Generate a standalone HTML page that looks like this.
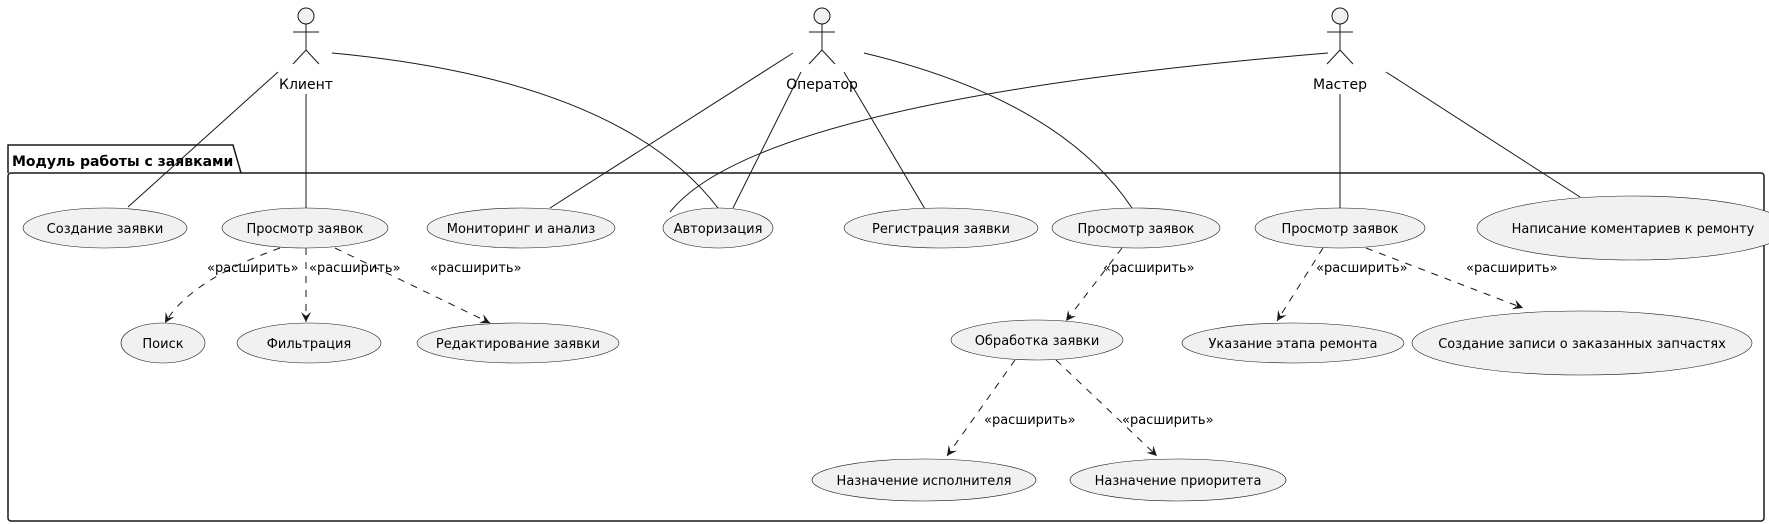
<!DOCTYPE html>
<html><head><meta charset="utf-8"><style>
html,body{margin:0;padding:0;background:#fff;}
svg{display:block;font-family:"DejaVu Sans","Liberation Sans",sans-serif;}
</style></head><body>
<svg width="1769" height="524" viewBox="0 0 1769 524" xmlns="http://www.w3.org/2000/svg">
<defs>
<marker id="a" markerWidth="12" markerHeight="12" refX="10" refY="5" orient="auto" markerUnits="userSpaceOnUse">
<path d="M0,0 L10,5 L0,10 L4,5 Z" fill="#181818"/>
</marker>
</defs>
<path d="M8,173 L8,145 L233,145 L241,173" fill="none" stroke="#181818" stroke-width="1.5"/>
<rect x="8" y="173" width="1756" height="348" rx="3" fill="none" stroke="#181818" stroke-width="1.5"/>
<text x="12" y="166" font-size="14" font-weight="bold">Модуль работы с заявками</text>

<g fill="none" stroke="#181818" stroke-width="1">
<line x1="278" y1="72" x2="128" y2="207"/>
<line x1="306" y1="94" x2="306" y2="208"/>
<path d="M332,53 Q620,80 718,208"/>
<line x1="793" y1="53" x2="550" y2="208"/>
<line x1="801" y1="72" x2="733" y2="208"/>
<line x1="844" y1="72" x2="925" y2="209"/>
<path d="M864,53 Q1060,100 1132,208"/>
<path d="M1328,53 Q760,100 670,212"/>
<line x1="1340" y1="94" x2="1340" y2="208"/>
<line x1="1386" y1="72" x2="1580" y2="197"/>
</g>

<g fill="#f1f1f1" stroke="#181818" stroke-width="1">
<circle cx="306" cy="16" r="8"/><line x1="306" y1="24" x2="306" y2="50"/><line x1="293" y1="32" x2="319" y2="32"/><path d="M293,64 L306,50 L319,64" fill="none"/>
<circle cx="822" cy="16" r="8"/><line x1="822" y1="24" x2="822" y2="50"/><line x1="809" y1="32" x2="835" y2="32"/><path d="M809,64 L822,50 L835,64" fill="none"/>
<circle cx="1340" cy="16" r="8"/><line x1="1340" y1="24" x2="1340" y2="50"/><line x1="1327" y1="32" x2="1353" y2="32"/><path d="M1327,64 L1340,50 L1353,64" fill="none"/>
</g>
<g font-size="14" text-anchor="middle" fill="#000">
<text x="306" y="89">Клиент</text>
<text x="822" y="89">Оператор</text>
<text x="1340" y="89">Мастер</text>
</g>

<g fill="none" stroke="#181818" stroke-width="1" stroke-dasharray="7,7" marker-end="url(#a)">
<path d="M280,248 Q190,280 165,323"/>
<line x1="306" y1="248" x2="306" y2="322"/>
<line x1="335" y1="248" x2="490" y2="323"/>
<line x1="1122" y1="248" x2="1066" y2="321"/>
<line x1="1015" y1="360" x2="947" y2="456"/>
<line x1="1056" y1="360" x2="1157" y2="456"/>
<line x1="1323" y1="248" x2="1277" y2="321"/>
<line x1="1366" y1="248" x2="1523" y2="308"/>
</g>
<g font-size="13" fill="#000">
<text x="207" y="272">«расширить»</text>
<text x="309" y="272">«расширить»</text>
<text x="430" y="272">«расширить»</text>
<text x="1103" y="272">«расширить»</text>
<text x="984" y="424">«расширить»</text>
<text x="1122" y="424">«расширить»</text>
<text x="1316" y="272">«расширить»</text>
<text x="1466" y="272">«расширить»</text>
</g>

<g fill="#f1f1f1" stroke="#181818" stroke-width="0.6">
<ellipse cx="105" cy="228" rx="82" ry="20"/>
<ellipse cx="305" cy="228" rx="83" ry="20"/>
<ellipse cx="521" cy="228" rx="94" ry="20"/>
<ellipse cx="718" cy="228" rx="55" ry="20"/>
<ellipse cx="941" cy="228" rx="97" ry="20"/>
<ellipse cx="1136" cy="228" rx="84" ry="20"/>
<ellipse cx="1340" cy="228" rx="85" ry="20"/>
<ellipse cx="1633" cy="228" rx="156" ry="32"/>
<ellipse cx="163" cy="343" rx="42" ry="20"/>
<ellipse cx="309" cy="343" rx="72" ry="20"/>
<ellipse cx="518" cy="343" rx="101" ry="20"/>
<ellipse cx="1037" cy="340" rx="86" ry="20"/>
<ellipse cx="1293" cy="343" rx="111" ry="20"/>
<ellipse cx="1582" cy="343" rx="170" ry="32"/>
<ellipse cx="924" cy="480" rx="112" ry="21"/>
<ellipse cx="1178" cy="480" rx="108" ry="21"/>
</g>
<g font-size="13" text-anchor="middle" fill="#000">
<text x="105" y="233">Создание заявки</text>
<text x="305" y="233">Просмотр заявок</text>
<text x="521" y="233">Мониторинг и анализ</text>
<text x="718" y="233">Авторизация</text>
<text x="941" y="233">Регистрация заявки</text>
<text x="1136" y="233">Просмотр заявок</text>
<text x="1340" y="233">Просмотр заявок</text>
<text x="1633" y="233">Написание коментариев к ремонту</text>
<text x="163" y="348">Поиск</text>
<text x="309" y="348">Фильтрация</text>
<text x="518" y="348">Редактирование заявки</text>
<text x="1037" y="345">Обработка заявки</text>
<text x="1293" y="348">Указание этапа ремонта</text>
<text x="1582" y="348">Создание записи о заказанных запчастях</text>
<text x="924" y="485">Назначение исполнителя</text>
<text x="1178" y="485">Назначение приоритета</text>
</g>
</svg>
</body></html>
